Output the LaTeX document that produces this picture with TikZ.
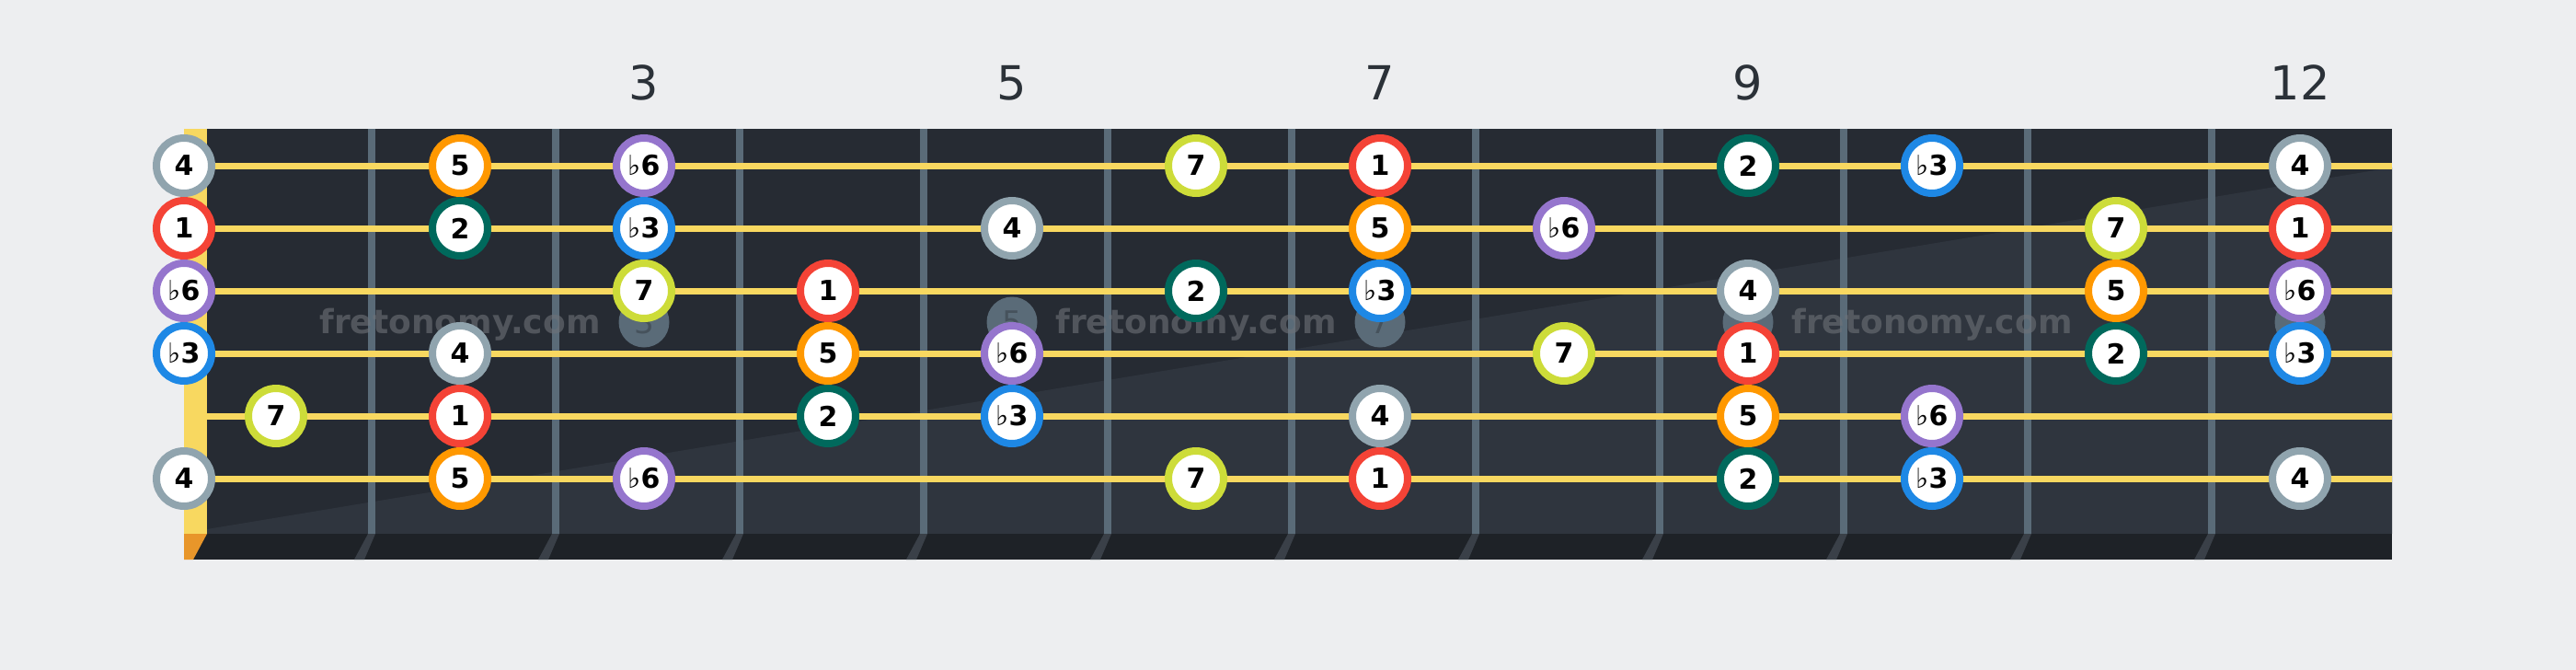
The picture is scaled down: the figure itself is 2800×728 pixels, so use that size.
\documentclass[tikz,border=0pt]{standalone}
\usepackage{fontspec}
\setmainfont{DejaVu Sans}
\definecolor{bgcol}{HTML}{EDEEF0}
\definecolor{board}{HTML}{262B33}
\definecolor{boardlight}{HTML}{2F353E}
\definecolor{boardedge}{HTML}{1E2227}
\definecolor{fretcol}{HTML}{5A6B78}
\definecolor{fretedge}{HTML}{3A4048}
\definecolor{stringcol}{HTML}{F8D860}
\definecolor{nutedge}{HTML}{E8962A}
\definecolor{inlaytext}{HTML}{46525C}
\definecolor{numcol}{HTML}{2B3138}
\definecolor{wmcol}{HTML}{6E7278}
\definecolor{deg1}{HTML}{F44336}
\definecolor{deg2}{HTML}{00695C}
\definecolor{deg3}{HTML}{1E88E5}
\definecolor{deg4}{HTML}{90A4AE}
\definecolor{deg5}{HTML}{FF9800}
\definecolor{deg6}{HTML}{9575CD}
\definecolor{deg7}{HTML}{CDDC39}
\newcommand{\flatmark}{{\mdseries ♭}}
\tikzset{
  note/.style={circle,draw=#1,line width=8pt,fill=white,minimum size=60pt,inner sep=0pt,
    font=\fontsize{30}{30}\selectfont\bfseries},
  inlay/.style={circle,fill=fretcol,minimum size=55pt,inner sep=0pt,text=inlaytext,
    font=\fontsize{34}{34}\selectfont},
  fretline/.style={draw=fretcol,line width=8pt},
  stringline/.style={draw=stringcol,line width=7pt},
  fretnum/.style={text=numcol,anchor=base,font=\fontsize{51}{51}\selectfont},
  watermark/.style={text=wmcol,opacity=0.6,anchor=base,font=\fontsize{36}{36}\selectfont\bfseries},
}
\begin{document}
\begin{tikzpicture}[x=1pt,y=-1pt] % 1pt = 1 pixel of the picture
  \fill[bgcol] (0,0) rectangle (2800,728); %page
  \useasboundingbox (0,0) rectangle (2800,728);
  \fill[board] (225,140) rectangle (2600,580); %fretboard
  \fill[boardlight] (225,580) -- (225,575) -- (2600,182) -- (2600,580) -- cycle; %lit part
  \fill[boardedge] (200,580) rectangle (2600,608); %side of the neck
  \fill[nutedge] (200,580) -- (225,580) -- (210,608) -- (200,608) -- cycle;
  \fill[stringcol] (200,140) rectangle (225,580); %nut
  \foreach \k in {1,...,11}{
    \draw[fretline] (200*\k+204,140) -- (200*\k+204,580);
    \fill[fretedge] (200*\k+200,580) -- (200*\k+208,580) -- (200*\k+196,608) -- (200*\k+185,608) -- cycle;
  }
  \foreach \f/\lab in {3/3,5/5,7/7,9/,12/}
    \node[inlay] (dot\f) at (200*\f+100,350) {\lab};
  \foreach \s/\y in {1/180,2/248,3/316,4/384,5/452,6/520}
    \draw[stringline] (225,\y) -- (2600,\y);
  \foreach \f in {3,5,7,9,12}
    \node[fretnum] (fnum\f) at (200*\f+100,108) {\f};
  \foreach \i/\x in {1/500,2/1300,3/2100}
    \node[watermark] (wm\i) at (\x,362) {fretonomy.com};
  % fret/degree/label for each string, high string first
  \foreach \s/\y/\notes in {
      1/180/{0/4/4,2/5/5,3/6/\flatmark6,6/7/7,7/1/1,9/2/2,10/3/\flatmark3,12/4/4},
      2/248/{0/1/1,2/2/2,3/3/\flatmark3,5/4/4,7/5/5,8/6/\flatmark6,11/7/7,12/1/1},
      3/316/{0/6/\flatmark6,3/7/7,4/1/1,6/2/2,7/3/\flatmark3,9/4/4,11/5/5,12/6/\flatmark6},
      4/384/{0/3/\flatmark3,2/4/4,4/5/5,5/6/\flatmark6,8/7/7,9/1/1,11/2/2,12/3/\flatmark3},
      5/452/{1/7/7,2/1/1,4/2/2,5/3/\flatmark3,7/4/4,9/5/5,10/6/\flatmark6},
      6/520/{0/4/4,2/5/5,3/6/\flatmark6,6/7/7,7/1/1,9/2/2,10/3/\flatmark3,12/4/4}}
    \foreach \f/\d/\t in \notes {
      \pgfmathsetmacro{\nx}{ifthenelse(\f==0,200,200*\f+100)}
      \node[note=deg\d] (n\s-\f) at (\nx,\y) {\t};
    }
\end{tikzpicture}
\end{document}
